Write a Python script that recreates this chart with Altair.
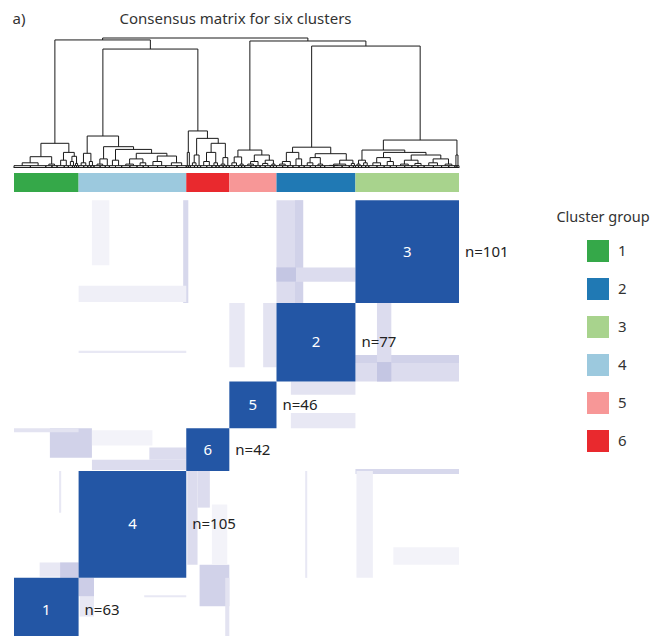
import altair as alt
import pandas as pd

# ---------------- data ----------------
# clusters in the order they appear along the matrix (left -> right, bottom -> top)
order_ids = ["1", "4", "6", "5", "2", "3"]
order_sizes = [63, 105, 42, 46, 77, 101]

legend_ids = ["1", "2", "3", "4", "5", "6"]
legend_colors = ["#35a849", "#2079b4", "#a8d38d", "#9cc9de", "#f79797", "#e9292e"]

# off-diagonal consensus patches (column range i0-i1, row range j0-j1, value); mirrored below
p_i0 = [256, 274, 256, 256, 210, 243, 165, 63, 76, 63, 35, 0, 76, 132, 76, 25, 45, 44]
p_i1 = [282, 282, 333, 275, 225, 256, 170, 168, 93, 168, 76, 63, 135, 168, 168, 63, 63, 46]
p_j0 = [333, 333, 354, 354, 270, 270, 333, 334, 370, 284, 181, 206, 193, 179, 169, 64, 63, 127]
p_j1 = [434, 434, 368, 368, 333, 333, 434, 350, 434, 286, 210, 210, 208, 191, 179, 78, 78, 168]
p_v = [0.15, 0.22, 0.15, 0.30, 0.10, 0.12, 0.18, 0.07, 0.05, 0.10, 0.22, 0.12, 0.05, 0.15, 0.15, 0.10, 0.25, 0.10]

# dendrogram: [merge height, left, right]; an integer is a leaf group of that many samples
tree_c1 = [0.19, [0.087, [0.04, 16, 15], [0.03, 6, 5]], [0.12, [0.06, 7, 4], [0.09, [0.05, 4, 2], [0.035, 2, 2]]]]
tree_c4 = [0.246, [0.113, [0.04, 5, 4], [0.05, 3, 3]],
           [0.164, [0.07, [0.03, 6, 5], 4],
            [0.143, [0.06, 6, 6],
             [0.113, [0.07, [0.03, 8, 7], [0.04, 6, 5]], [0.092, [0.05, 9, 8], [0.04, 11, 9]]]]]]
tree_c6 = [0.285, [0.12, 2, 2],
           [0.228, [0.10, [0.04, 4, 3], 3],
            [0.19, [0.12, [0.05, 6, 5], [0.04, 4, 3]], [0.08, [0.03, 4, 3], 3]]]]
tree_c5 = [0.138, [0.085, [0.04, 5, 4], [0.03, 3, 3]],
           [0.10, [0.05, [0.03, 6, 5], 4], [0.06, [0.035, 5, 5], [0.03, 3, 3]]]]
tree_c2 = [0.16, [0.12, [0.05, [0.03, 6, 5], 5], [0.07, 6, 5]],
           [0.11, [0.08, [0.04, 6, 5], [0.03, 5, 4]], [0.06, [0.03, [0.02, 9, 8], 7], [0.035, 4, 2]]]]
tree_c3 = [0.215, [0.138, [0.06, [0.03, 3, 3], [0.04, 4, 3]],
                   [0.12, [0.08, [0.04, 8, 7], [0.05, 6, 6]],
                    [0.10, [0.06, [0.03, 8, 7], [0.035, 6, 6]], [0.07, [0.04, 9, 8], [0.03, 7, 6]]]]],
           [0.10, 2, 2]]
tree_root = [1.0, [0.985, tree_c1, [0.915, tree_c4, tree_c6]],
             [0.977, tree_c5, [0.938, tree_c2, tree_c3]]]
LEAF_H = 0.018

N = sum(order_sizes)

# ---------------- build tables ----------------
segs = []


def layout(node, start):
    if isinstance(node, int):
        segs.append(dict(x=start, x2=start + node, y=LEAF_H, y2=LEAF_H))
        segs.append(dict(x=start, x2=start + node, y=0.004, y2=0.004))
        segs.append(dict(x=start, x2=start, y=0, y2=LEAF_H))
        segs.append(dict(x=start + node, x2=start + node, y=0, y2=LEAF_H))
        return start + node / 2, LEAF_H, start + node
    h, left, right = node
    xl, hl, s = layout(left, start)
    xr, hr, s = layout(right, s)
    segs.append(dict(x=xl, x2=xl, y=hl, y2=h))
    segs.append(dict(x=xr, x2=xr, y=hr, y2=h))
    segs.append(dict(x=xl, x2=xr, y=h, y2=h))
    return (xl + xr) / 2, h, s


layout(tree_root, 0)
seg_df = pd.DataFrame(segs)

starts = []
s = 0
for n in order_sizes:
    starts.append(s)
    s += n
blocks = pd.DataFrame({
    "cluster": order_ids,
    "i0": starts,
    "i1": [a + n for a, n in zip(starts, order_sizes)],
})
blocks["j0"] = blocks["i0"]
blocks["j1"] = blocks["i1"]
blocks["v"] = 1.0
blocks["c"] = (blocks["i0"] + blocks["i1"]) / 2
blocks["n"] = ["n=" + str(n) for n in order_sizes]

patch = pd.DataFrame({"i0": p_i0, "i1": p_i1, "j0": p_j0, "j1": p_j1, "v": p_v})
mirror = pd.DataFrame({"i0": p_j0, "i1": p_j1, "j0": p_i0, "j1": p_i1, "v": p_v})
patches = pd.concat([patch, mirror], ignore_index=True)

# ---------------- scales ----------------
FONT = "Noto Sans"
xs = alt.Scale(domain=[0, N], nice=False, zero=False)
ys_hm = alt.Scale(domain=[0, N], range=[634, 192.2], nice=False, zero=False)
ys_dn = alt.Scale(domain=[0, 1], range=[160, 30], nice=False, zero=False)
fill_scale = alt.Scale(domain=[0, 0.15, 0.3, 1.0],
                       range=["#ffffff", "#dcdcee", "#c4c6e3", "#2356a5"],
                       interpolate="rgb")

# ---------------- layers ----------------
dendro = alt.Chart(seg_df).mark_rule(color="#1a1a1a", strokeWidth=1).encode(
    x=alt.X("x:Q", scale=xs, axis=None),
    x2="x2:Q",
    y=alt.Y("y:Q", scale=ys_dn, axis=None),
    y2="y2:Q",
)

colorbar = alt.Chart(blocks).mark_rect().encode(
    x=alt.X("i0:Q", scale=xs, axis=None),
    x2="i1:Q",
    y=alt.value(165),
    y2=alt.value(184),
    color=alt.Color("cluster:N",
                    scale=alt.Scale(domain=legend_ids, range=legend_colors),
                    legend=alt.Legend(title=None, orient="none", legendX=573, legendY=232,
                                      symbolType="square", symbolSize=484, symbolStrokeWidth=0,
                                      labelFont=FONT, labelFontSize=15, labelColor="#333333",
                                      labelOffset=9, rowPadding=16, padding=0)),
)

patch_layer = alt.Chart(patches).mark_rect().encode(
    x=alt.X("i0:Q", scale=xs, axis=None),
    x2="i1:Q",
    y=alt.Y("j0:Q", scale=ys_hm, axis=None),
    y2="j1:Q",
    fill=alt.Fill("v:Q", scale=fill_scale, legend=None),
)

block_layer = alt.Chart(blocks).mark_rect().encode(
    x=alt.X("i0:Q", scale=xs, axis=None),
    x2="i1:Q",
    y=alt.Y("j0:Q", scale=ys_hm, axis=None),
    y2="j1:Q",
    fill=alt.Fill("v:Q", scale=fill_scale, legend=None),
)

block_text = alt.Chart(blocks).mark_text(font=FONT, fontSize=15, color="white",
                                         align="center", baseline="middle").encode(
    x=alt.X("c:Q", scale=xs, axis=None),
    y=alt.Y("c:Q", scale=ys_hm, axis=None),
    text="cluster:N",
)

n_text = alt.Chart(blocks).mark_text(font=FONT, fontSize=15, color="#222222",
                                     align="left", baseline="middle", dx=6).encode(
    x=alt.X("i1:Q", scale=xs, axis=None),
    y=alt.Y("c:Q", scale=ys_hm, axis=None),
    text="n:N",
)

title = alt.Chart(pd.DataFrame({"t": ["Consensus matrix for six clusters"]})).mark_text(
    font=FONT, fontSize=15, color="#333333", align="center", baseline="alphabetic"
).encode(text="t:N", x=alt.value(221.5), y=alt.value(16))

panel = alt.Chart(pd.DataFrame({"t": ["a)"]})).mark_text(
    font=FONT, fontSize=15, color="#333333", align="left", baseline="alphabetic"
).encode(text="t:N", x=alt.value(-1.5), y=alt.value(16))

legend_title = alt.Chart(pd.DataFrame({"t": ["Cluster group"]})).mark_text(
    font=FONT, fontSize=14.5, color="#333333", align="center", baseline="alphabetic"
).encode(text="t:N", x=alt.value(589), y=alt.value(214))

chart = alt.layer(
    dendro, colorbar, patch_layer, block_layer, block_text, n_text, title, panel, legend_title
).resolve_scale(y="independent").properties(
    width=445, height=628,
    padding={"left": 6, "top": 0, "right": 192, "bottom": 0},
    autosize=alt.AutoSizeParams(type="none"),
    background="white",
).configure(view=alt.ViewConfig(strokeWidth=0, stroke="transparent"))

chart.save("out.html", embed_options={"renderer": "svg", "actions": False})
